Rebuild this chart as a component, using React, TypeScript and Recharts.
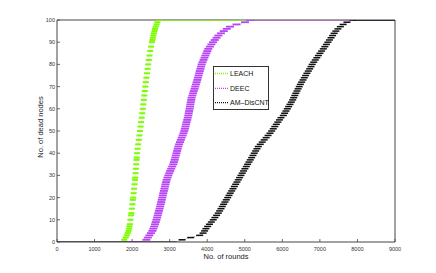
import React from 'react';
import { ComposedChart, Scatter, XAxis, YAxis, Legend } from 'recharts';

// ---------- data ----------
const xTicks = [0, 1000, 2000, 3000, 4000, 5000, 6000, 7000, 8000, 9000];
const yTicks = [0, 10, 20, 30, 40, 50, 60, 70, 80, 90, 100];
const seriesNames = ['LEACH', 'DEEC', 'AM\u2013DisCNT'];
const maxRounds = 9000;
const totalNodes = 100;

// round at which each series leaves 0 dead nodes
const firstDeathRounds = [1720, 2300, 3190];

// LEACH: dead-node levels and the round at which each is reached
const leachDead = [1, 2, 3, 4, 5, 6, 7, 8, 10, 12, 13, 15, 17, 19, 20, 22, 24, 26, 28, 29, 31, 33, 35, 37, 38, 40, 42, 44, 46, 48, 50, 52, 54, 56, 58, 60, 62, 64, 66, 68, 70, 72, 74, 76, 78, 80, 82, 84, 86, 88, 90, 91, 92, 93, 94, 95, 96, 97, 98, 99, 100];
const leachRounds = [1790, 1830, 1860, 1885, 1905, 1920, 1930, 1940, 1955, 1972, 1980, 1995, 2008, 2020, 2027, 2040, 2052, 2065, 2077, 2082, 2091, 2100, 2109, 2118, 2122, 2132, 2146, 2163, 2178, 2194, 2210, 2225, 2240, 2255, 2269, 2284, 2298, 2312, 2325, 2338, 2352, 2365, 2380, 2396, 2412, 2428, 2445, 2463, 2482, 2505, 2527, 2540, 2553, 2566, 2580, 2595, 2609, 2628, 2650, 2675, 2710];

// DEEC and AM-DisCNT: one entry per dead-node level
const levels = [1, 2, 3, 4, 5, 6, 7, 8, 9, 10, 11, 12, 13, 14, 15, 16, 17, 18, 19, 20, 21, 22, 23, 24, 25, 26, 27, 28, 29, 30, 31, 32, 33, 34, 35, 36, 37, 38, 39, 40, 41, 42, 43, 44, 45, 46, 47, 48, 49, 50, 51, 52, 53, 54, 55, 56, 57, 58, 59, 60, 61, 62, 63, 64, 65, 66, 67, 68, 69, 70, 71, 72, 73, 74, 75, 76, 77, 78, 79, 80, 81, 82, 83, 84, 85, 86, 87, 88, 89, 90, 91, 92, 93, 94, 95, 96, 97, 98, 99, 100];
const deecRounds = [2380, 2420, 2460, 2500, 2540, 2565, 2590, 2610, 2630, 2648, 2665, 2682, 2698, 2714, 2730, 2745, 2760, 2775, 2790, 2804, 2818, 2832, 2846, 2860, 2875, 2890, 2905, 2920, 2942, 2965, 2990, 3015, 3040, 3068, 3097, 3115, 3132, 3148, 3165, 3182, 3198, 3214, 3230, 3252, 3275, 3298, 3320, 3345, 3368, 3390, 3405, 3420, 3436, 3451, 3467, 3482, 3497, 3508, 3519, 3530, 3541, 3552, 3563, 3575, 3586, 3605, 3624, 3643, 3662, 3681, 3700, 3719, 3736, 3752, 3769, 3786, 3802, 3819, 3836, 3852, 3876, 3901, 3926, 3952, 3978, 4003, 4029, 4070, 4112, 4155, 4200, 4248, 4295, 4365, 4440, 4520, 4606, 4780, 5006, 5140];
const amRounds = [3330, 3560, 3800, 3890, 3930, 3965, 4010, 4060, 4110, 4160, 4205, 4250, 4295, 4330, 4366, 4401, 4437, 4472, 4508, 4545, 4580, 4615, 4650, 4686, 4722, 4757, 4792, 4827, 4862, 4898, 4933, 4968, 5003, 5040, 5075, 5112, 5147, 5182, 5218, 5253, 5289, 5325, 5360, 5412, 5464, 5516, 5568, 5620, 5672, 5716, 5758, 5799, 5840, 5882, 5923, 5964, 6026, 6062, 6097, 6133, 6168, 6204, 6240, 6275, 6302, 6331, 6360, 6390, 6420, 6450, 6480, 6514, 6550, 6585, 6620, 6656, 6692, 6728, 6763, 6795, 6836, 6877, 6918, 6960, 7002, 7045, 7091, 7132, 7173, 7214, 7255, 7297, 7338, 7380, 7425, 7480, 7545, 7620, 7720, 7880];

// ---------- styling ----------
const colors = ['#7cfc00', '#b844f5', '#111111'];
const dashW = [6, 8, 7];
const dashH = [2, 1.8, 1.5];
const FONT = '"Liberation Sans", Arial, sans-serif';
const AXIS = '#444';

type Pt = { x: number; y: number };
const toPoints = (rounds: number[], dead: number[]): Pt[] => rounds.map((r, i) => ({ x: r, y: dead[i] }));

const seriesPoints = [
  toPoints(leachRounds, leachDead),
  toPoints(deecRounds, levels),
  toPoints(amRounds, levels),
];
// flat parts: 0 dead before the first death, all dead after the last one
const lowFlats = firstDeathRounds.map((r) => [{ x: 0, y: 0 }, { x: r, y: 0 }]);
const highFlats = seriesPoints.map((pts) => [pts[pts.length - 1], { x: maxRounds, y: totalNodes }]);
const middles = seriesPoints.map((pts, i) => [{ x: firstDeathRounds[i], y: 0 }, ...pts]);

const makeDash = (color: string, w: number, h: number) => (props: any) => {
  const { cx, cy } = props;
  if (cx == null || cy == null) return <g />;
  return <rect x={cx - w / 2} y={cy - h / 2} width={w} height={h} fill={color} />;
};
const noShape = () => <g />;

const XTick = (props: any) => {
  const { x, y, payload } = props;
  return (
    <g>
      <line x1={x} y1={y} x2={x} y2={y - 3} stroke={AXIS} strokeWidth={0.8} />
      <text x={x} y={y + 8.7} textAnchor="middle" fontSize={5.5} fontFamily={FONT} fill="#333">
        {payload.value}
      </text>
    </g>
  );
};

const YTick = (props: any) => {
  const { x, y, payload } = props;
  return (
    <g>
      <line x1={x} y1={y} x2={x + 3} y2={y} stroke={AXIS} strokeWidth={0.8} />
      <text x={x - 2} y={y + 2} textAnchor="end" fontSize={5.5} fontFamily={FONT} fill="#333">
        {payload.value}
      </text>
    </g>
  );
};

const XTitle = (props: any) => {
  const vb = props.viewBox || {};
  return (
    <text x={vb.x + vb.width / 2} y={vb.y + 17.3} textAnchor="middle" fontSize={7.5} fontFamily={FONT} fill="#222">
      No. of rounds
    </text>
  );
};

const YTitle = () => {
  const cx = 43;
  const cy = 127;
  return (
    <text x={cx} y={cy} textAnchor="middle" fontSize={7.5} fontFamily={FONT} fill="#222" transform={`rotate(-90, ${cx}, ${cy})`}>
      No. of dead nodes
    </text>
  );
};

const renderLegend = () => {
  const rows = [7.5, 22.3, 36.7];
  return (
    <svg width={57} height={45} style={{ display: 'block' }}>
      <rect x={0.5} y={0.5} width={55} height={43} fill="#fff" stroke="#333" strokeWidth={1} />
      {seriesNames.map((name, i) => (
        <g key={name}>
          <line x1={2} x2={15} y1={rows[i]} y2={rows[i]} stroke={colors[i]} strokeWidth={1.3} strokeDasharray="1 1" />
          <text x={17} y={rows[i] + 2.5} fontSize={7} fontFamily={FONT} fill="#111">
            {name}
          </text>
        </g>
      ))}
    </svg>
  );
};

export default function App() {
  return (
    <div style={{ position: 'absolute', left: 0, top: 0, width: 436, height: 273, background: '#fff' }}>
      <ComposedChart width={436} height={273} margin={{ top: 20, right: 41, bottom: 1, left: 0 }}>
        <XAxis
          xAxisId="bottom"
          type="number"
          dataKey="x"
          domain={[0, maxRounds]}
          ticks={xTicks}
          height={30}
          tickSize={0}
          tickMargin={0}
          tickLine={false}
          tick={<XTick />}
          axisLine={{ stroke: AXIS, strokeWidth: 1 }}
          label={XTitle}
          interval={0}
          allowDataOverflow
        />
        <XAxis
          xAxisId="top"
          type="number"
          orientation="top"
          mirror
          domain={[0, maxRounds]}
          ticks={xTicks}
          height={1}
          tickSize={3}
          tick={false}
          tickLine={{ stroke: AXIS, strokeWidth: 0.8 }}
          axisLine={{ stroke: AXIS, strokeWidth: 1 }}
          interval={0}
          allowDataOverflow
        />
        <YAxis
          yAxisId="left"
          type="number"
          dataKey="y"
          domain={[0, totalNodes]}
          ticks={yTicks}
          width={57}
          tickSize={0}
          tickMargin={0}
          tickLine={false}
          tick={<YTick />}
          axisLine={{ stroke: AXIS, strokeWidth: 1 }}
          label={YTitle}
          interval={0}
          allowDataOverflow
        />
        <YAxis
          yAxisId="right"
          type="number"
          orientation="right"
          mirror
          domain={[0, totalNodes]}
          ticks={yTicks}
          width={1}
          tickSize={3}
          tick={false}
          tickLine={{ stroke: AXIS, strokeWidth: 0.8 }}
          axisLine={{ stroke: AXIS, strokeWidth: 1 }}
          interval={0}
          allowDataOverflow
        />
        {lowFlats.map((d, i) => (
          <Scatter
            key={`low-${i}`}
            xAxisId="bottom"
            yAxisId="left"
            data={d}
            fill={colors[i]}
            line={{ stroke: colors[i], strokeWidth: 1.2 }}
            lineType="joint"
            shape={noShape}
            isAnimationActive={false}
            legendType="none"
          />
        ))}
        {middles.map((d, i) => (
          <Scatter
            key={`mid-${i}`}
            xAxisId="bottom"
            yAxisId="left"
            data={d}
            fill={colors[i]}
            line={{ stroke: colors[i], strokeWidth: 0.7, strokeOpacity: 0.5, strokeDasharray: '1 1' }}
            lineType="joint"
            shape={noShape}
            isAnimationActive={false}
            legendType="none"
          />
        ))}
        {highFlats.map((d, i) => (
          <Scatter
            key={`high-${i}`}
            xAxisId="bottom"
            yAxisId="left"
            data={d}
            fill={colors[i]}
            line={{ stroke: colors[i], strokeWidth: 1.6 }}
            lineType="joint"
            shape={noShape}
            isAnimationActive={false}
            legendType="none"
          />
        ))}
        {seriesPoints.map((pts, i) => (
          <Scatter
            key={`marks-${i}`}
            name={seriesNames[i]}
            xAxisId="bottom"
            yAxisId="left"
            data={pts}
            fill={colors[i]}
            shape={makeDash(colors[i], dashW[i], dashH[i])}
            isAnimationActive={false}
          />
        ))}
        <Legend
          layout="vertical"
          align="center"
          verticalAlign="middle"
          content={renderLegend}
          wrapperStyle={{ position: 'absolute', left: 213, top: 66, width: 57, height: 45 }}
        />
      </ComposedChart>
    </div>
  );
}
